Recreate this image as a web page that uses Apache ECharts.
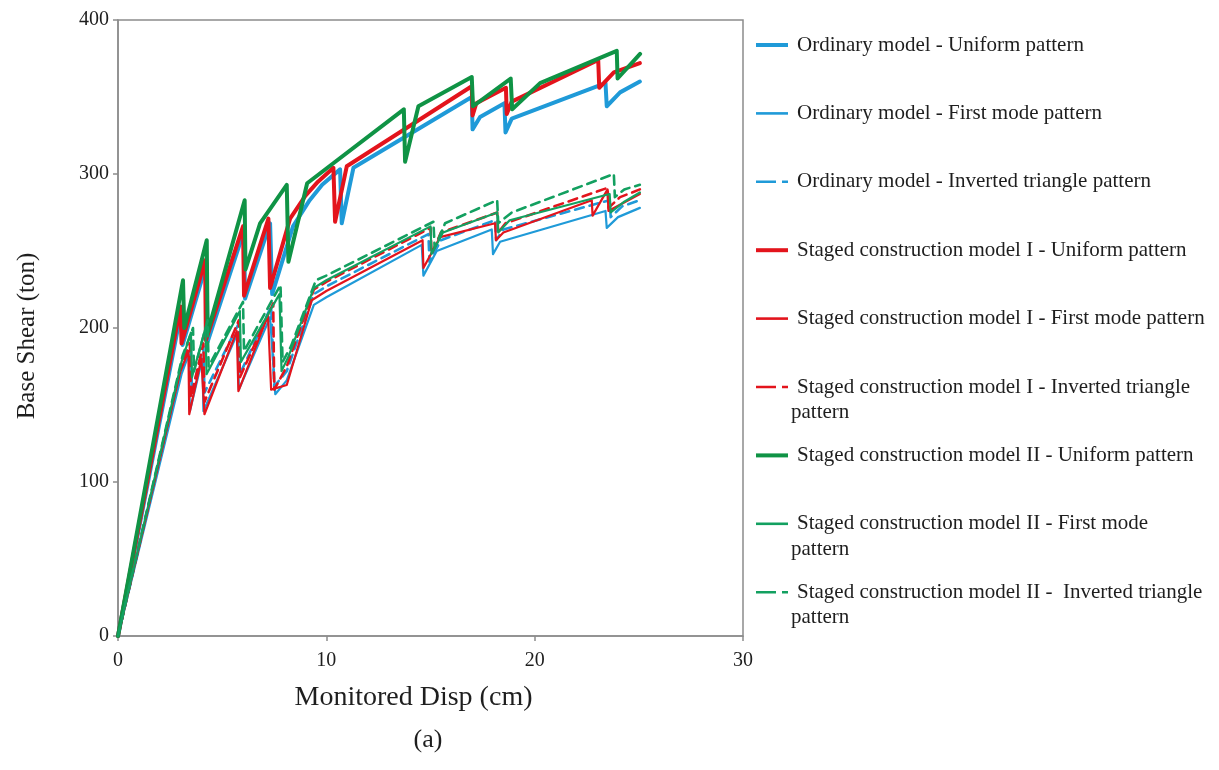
<!DOCTYPE html>
<html>
<head>
<meta charset="utf-8">
<script src="https://cdn.jsdelivr.net/npm/echarts@6/dist/echarts.min.js"></script>
<style>
  html, body { margin: 0; padding: 0; background: #fff; }
  #chart { width: 1219px; height: 770px; }
</style>
</head>
<body>
<div id="chart"></div>
<script>
// Pushover curves: monitored roof displacement (cm) vs base shear (ton)
const xTicks = [0, 10, 20, 30];
const yTicks = [0, 100, 200, 300, 400];

const seriesNames = [
  'Ordinary model - Uniform pattern',
  'Ordinary model - First mode pattern',
  'Ordinary model - Inverted triangle pattern',
  'Staged construction model I - Uniform pattern',
  'Staged construction model I - First mode pattern',
  'Staged construction model I - Inverted triangle pattern',
  'Staged construction model II - Uniform pattern',
  'Staged construction model II - First mode pattern',
  'Staged construction model II - Inverted triangle pattern'
];

// legend text as printed (continuation lines kept separate)
const legendLines = [
  ['Ordinary model - Uniform pattern'],
  ['Ordinary model - First mode pattern'],
  ['Ordinary model - Inverted triangle pattern'],
  ['Staged construction model I - Uniform pattern'],
  ['Staged construction model I - First mode pattern'],
  ['Staged construction model I - Inverted triangle', 'pattern'],
  ['Staged construction model II - Uniform pattern'],
  ['Staged construction model II - First mode', 'pattern'],
  ['Staged construction model II -  Inverted triangle', 'pattern']
];

// [displacement cm, base shear ton]
const ordUniform = [[0,0],[3.05,212],[3.1,189],[4.25,242],[4.3,191],[6.05,263],[6.1,219],[7.3,268],[7.4,222],[8.4,266],[9.2,283],[9.8,293],[10.66,303],[10.74,268],[11.3,304],[16.98,350],[17.02,329],[17.38,337],[18.55,346],[18.6,327],[18.9,336],[23.4,359],[23.46,344],[24.1,353],[25.05,360]];
const ordFirstMode = [[0,0],[3.05,170],[3.4,183],[3.45,146],[4.05,180],[4.1,146],[5.75,197],[5.8,160],[7.3,207],[7.55,157],[8.1,166],[9.4,215],[10,220],[14.58,254],[14.66,234],[15.3,250],[17.94,264],[18.0,248],[18.34,256],[23.4,276],[23.46,265],[24.0,272],[25.05,278]];
const ordInvTri = [[0,0],[3.0,172],[3.5,188],[3.55,158],[4.1,188],[4.15,158],[5.8,203],[5.85,170],[7.35,214],[7.5,162],[8.1,172],[9.4,222],[10,227],[14.9,261],[14.95,243],[15.5,257],[18.1,270],[18.15,257],[18.5,264],[23.6,283],[23.65,272],[24.2,279],[25.05,283]];

const sc1Uniform = [[0,0],[3.0,214],[3.05,190],[4.18,244],[4.22,192],[6.0,266],[6.05,221],[7.22,271],[7.3,226],[8.26,271],[9.0,286],[9.6,295],[10.34,304],[10.42,269],[10.98,305],[16.98,357],[17.02,338],[17.2,346],[18.62,356],[18.66,339],[18.9,347],[23.05,374],[23.1,356],[23.8,366],[25.05,372]];
const sc1FirstMode = [[0,0],[3.0,172],[3.38,185],[3.42,144],[4.0,180],[4.15,144],[5.7,198],[5.78,159],[7.2,208],[7.35,160],[8.1,163],[9.3,218],[10,224],[14.62,257],[14.66,239],[15.46,259],[18.1,268],[18.14,257],[18.5,262],[22.74,283],[22.78,273],[23.5,290],[23.54,276],[25.05,287]];
const sc1InvTri = [[0,0],[3.0,174],[3.45,190],[3.5,155],[4.1,190],[4.15,152],[5.8,205],[5.85,168],[7.45,216],[7.5,160],[8.1,175],[9.4,225],[10,230],[15.0,265],[15.05,248],[15.5,262],[18.2,275],[18.25,262],[18.6,268],[23.5,291],[23.55,278],[24.1,285],[25.05,290]];

const sc2Uniform = [[0,0],[3.12,231],[3.18,200],[4.26,257],[4.3,197],[6.08,283],[6.12,238],[6.82,268],[8.1,293],[8.18,243],[9.08,294],[13.72,342],[13.78,308],[14.42,344],[16.98,363],[17.04,344],[18.85,362],[18.92,342],[20.26,359],[23.94,380],[23.98,362],[25.06,378]];
const sc2FirstMode = [[0,0],[3.05,178],[3.5,197],[3.55,168],[4.2,200],[4.25,170],[5.85,211],[5.9,178],[7.75,222],[7.85,172],[8.2,182],[9.4,226],[10,231],[15.0,266],[15.05,248],[15.6,262],[18.2,275],[18.25,262],[18.8,270],[23.6,287],[23.65,275],[24.3,282],[25.05,288]];
const sc2InvTri = [[0,0],[3.1,182],[3.6,200],[3.65,172],[4.3,205],[4.35,175],[6.0,217],[6.05,185],[7.8,228],[7.9,178],[8.3,188],[9.5,231],[10,234],[15.14,269],[15.2,252],[15.7,268],[18.2,283],[18.25,268],[18.9,275],[23.8,300],[23.85,285],[24.3,290],[25.05,293]];

const seriesData = [ordUniform, ordFirstMode, ordInvTri, sc1Uniform, sc1FirstMode, sc1InvTri, sc2Uniform, sc2FirstMode, sc2InvTri];

const BLUE = '#1f9ad8', RED = '#e3141c', GREEN = '#0f9345', GREEN2 = '#13a060';
const styles = [
  { color: BLUE,  width: 4,   type: 'solid' },
  { color: BLUE,  width: 2.2, type: 'solid' },
  { color: BLUE,  width: 2.6, type: [9, 6] },
  { color: RED,   width: 4,   type: 'solid' },
  { color: RED,   width: 2.2, type: 'solid' },
  { color: RED,   width: 2.6, type: [9, 6] },
  { color: GREEN, width: 4,   type: 'solid' },
  { color: GREEN2, width: 2.2, type: 'solid' },
  { color: GREEN2, width: 2.6, type: [9, 6] }
];

const FONT = '"Liberation Serif", "DejaVu Serif", serif';
const TEXT = '#1e1e1e';
const AXIS = '#8c8c8c';

const chart = echarts.init(document.getElementById('chart'), null, { renderer: 'canvas' });

// legend drawn beside the plot
const legendTop = 45, legendStep = 68.4;
const legendGraphics = [];
legendLines.forEach((lines, i) => {
  const y = legendTop + i * legendStep;
  const st = styles[i];
  const isDash = Array.isArray(st.type);
  legendGraphics.push({
    type: 'line',
    shape: { x1: 756, y1: y, x2: 788, y2: y },
    style: { stroke: st.color, lineWidth: st.width >= 3 ? 4 : 2.6, lineDash: isDash ? [20, 6, 6, 6] : null }
  });
  legendGraphics.push({
    type: 'text', x: 797, y: y,
    style: { text: lines[0], font: '21px ' + FONT, fill: TEXT, textVerticalAlign: 'middle' }
  });
  if (lines[1]) {
    legendGraphics.push({
      type: 'text', x: 791, y: y + 25.5,
      style: { text: lines[1], font: '21px ' + FONT, fill: TEXT, textVerticalAlign: 'middle' }
    });
  }
});
legendGraphics.push({
  type: 'text', x: 428, y: 740,
  style: { text: '(a)', font: '26px ' + FONT, fill: TEXT, textAlign: 'center', textVerticalAlign: 'middle' }
});

chart.setOption({
  animation: false,
  backgroundColor: '#fff',
  grid: { left: 118, right: 476, top: 20, bottom: 134, show: true, borderColor: AXIS, borderWidth: 1.5, backgroundColor: 'transparent' },
  xAxis: {
    type: 'value', min: xTicks[0], max: xTicks[xTicks.length - 1], interval: 10,
    name: 'Monitored Disp (cm)', nameLocation: 'middle', nameGap: 48,
    nameTextStyle: { fontFamily: FONT, fontSize: 28, color: TEXT, padding: [0, 34, 0, 0] },
    axisLine: { show: true, lineStyle: { color: AXIS, width: 1.5 } },
    axisTick: { show: true, length: 5, lineStyle: { color: AXIS, width: 1.5 } },
    axisLabel: { fontFamily: FONT, fontSize: 20, color: TEXT, margin: 15 },
    splitLine: { show: false }
  },
  yAxis: {
    type: 'value', min: yTicks[0], max: yTicks[yTicks.length - 1], interval: 100,
    name: 'Base Shear (ton)', nameLocation: 'middle', nameGap: 78,
    nameTextStyle: { fontFamily: FONT, fontSize: 25, color: TEXT, padding: [0, 16, 0, 0] },
    axisLine: { show: true, lineStyle: { color: AXIS, width: 1.5 } },
    axisTick: { show: true, length: 5, lineStyle: { color: AXIS, width: 1.5 } },
    axisLabel: { fontFamily: FONT, fontSize: 20, color: TEXT, margin: 9 },
    splitLine: { show: false }
  },
  graphic: legendGraphics,
  series: seriesData.map((d, i) => ({
    name: seriesNames[i],
    type: 'line',
    data: d,
    showSymbol: false,
    symbol: 'none',
    clip: true,
    z: 2 + Math.floor(i / 3),
    lineStyle: { color: styles[i].color, width: styles[i].width, type: styles[i].type, join: 'round', cap: 'round' }
  }))
});
</script>
</body>
</html>
